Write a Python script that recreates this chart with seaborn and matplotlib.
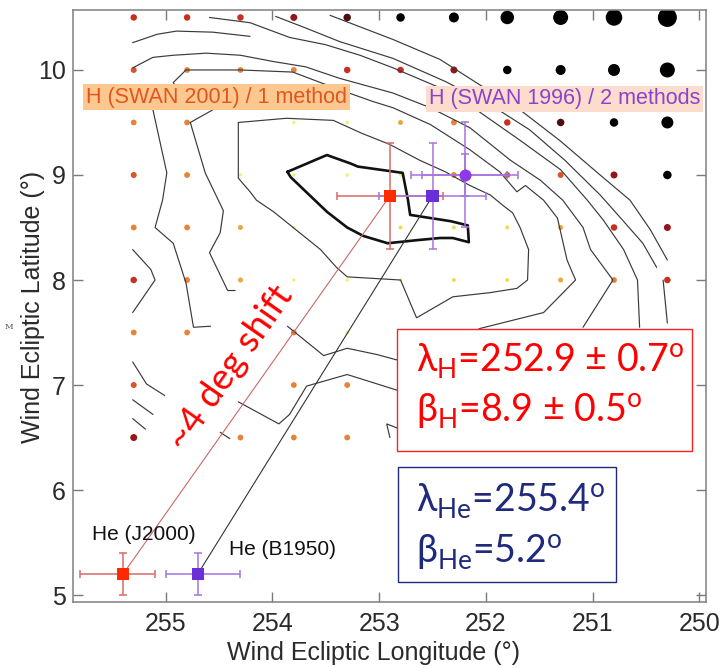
import matplotlib
matplotlib.use("Agg")
import numpy as np
import pandas as pd
import seaborn as sns
import matplotlib.pyplot as plt
from matplotlib.patches import Rectangle

# ---------------------------------------------------------------- data
grid_lon = [255.3, 254.8, 254.3, 253.8, 253.3, 252.8, 252.3, 251.8, 251.3, 250.8, 250.3]
grid_lat = [10.5, 10.0, 9.5, 9.0, 8.5, 8.0, 7.5, 7.0, 6.5]
# fit quality class per grid node (0 = no node shown)
fit_level = [
    [6, 6, 6, 7, 8, 9, 10, 12, 13, 14, 15],
    [5, 4, 4, 4, 6, 6, 7, 9, 10, 11, 13],
    [4, 4, 0, 1, 1, 3, 4, 6, 8, 9, 11],
    [5, 4, 1, 1, 1, 1, 4, 5, 5, 7, 9],
    [4, 4, 3, 1, 1, 2, 2, 2, 3, 6, 7],
    [6, 4, 3, 1, 1, 1, 2, 2, 3, 4, 6],
    [4, 4, 0, 4, 1, 0, 0, 0, 0, 0, 0],
    [5, 0, 0, 4, 4, 0, 0, 0, 0, 0, 0],
    [7, 0, 4, 4, 4, 0, 0, 0, 0, 0, 0],
]

# iso-contours of the fit (lon, lat)
contour_min_lon = [253.86, 253.49, 253.27, 253.20, 252.78, 252.73, 252.71, 252.52, 252.33, 252.17,
                   252.16, 252.31, 252.43, 252.64, 252.92, 253.15, 253.30, 253.49, 253.83, 253.86]
contour_min_lat = [9.03, 9.19, 9.11, 9.08, 9.02, 8.76, 8.62, 8.59, 8.56, 8.52,
                   8.36, 8.40, 8.40, 8.38, 8.35, 8.42, 8.50, 8.65, 8.98, 9.03]

contour_lines = [
    # level 2 (closed)
    ([254.32, 253.87, 253.43, 253.17, 252.90, 252.62, 252.38, 252.15, 251.96, 251.84, 251.75, 251.68,
      251.60, 251.61, 251.71, 251.96, 252.31, 252.65, 252.80, 253.30, 253.40, 253.55, 253.99, 254.15,
      254.21, 254.32, 254.32],
     [9.50, 9.54, 9.52, 9.40, 9.29, 9.14, 9.03, 8.90, 8.81, 8.71, 8.64, 8.50,
      8.29, 8.00, 7.92, 7.88, 7.84, 7.64, 8.00, 8.03, 8.12, 8.29, 8.65, 8.76,
      8.84, 8.97, 9.50]),
    # level 3
    ([254.35, 254.42, 254.59, 254.49, 254.46, 254.63, 254.77, 254.56, 254.87, 254.93, 254.81, 254.30,
      253.81, 253.55, 253.31, 253.06, 252.87, 252.52, 252.15, 251.87, 251.71, 251.63, 251.46, 251.33,
      251.24, 251.16, 251.46, 252.05, 252.43, 252.84, 253.02, 253.30, 253.52, 253.86],
     [7.90, 7.90, 8.26, 8.45, 8.66, 9.02, 9.50, 9.62, 9.79, 9.88, 10.00, 10.00,
      9.98, 9.88, 9.79, 9.70, 9.64, 9.48, 9.24, 9.03, 8.84, 8.90, 8.76, 8.59,
      8.19, 8.00, 7.69, 7.54, 7.38, 7.24, 7.29, 7.35, 7.28, 7.56]),
    # level 4 (west branch)
    ([254.58, 254.74, 254.81, 254.93, 255.10, 255.03, 254.99, 255.12, 255.17],
     [7.56, 7.55, 7.97, 8.35, 8.50, 8.76, 9.02, 9.62, 9.76]),
    # level 4 (north-east branch)
    ([255.31, 255.12, 254.93, 254.62, 254.30, 253.99, 253.69, 253.37, 252.87, 252.52, 252.15, 251.77,
      251.49, 251.28, 251.09, 251.02, 250.81, 251.09],
     [10.02, 10.12, 10.14, 10.16, 10.14, 10.08, 10.03, 9.92, 9.78, 9.64, 9.45, 9.14,
      8.95, 8.76, 8.50, 8.29, 8.00, 7.55]),
    # level 5
    ([254.59, 254.21, 253.84, 253.50, 253.18, 252.87, 252.43, 252.06, 251.68, 251.30, 251.05, 250.90,
      250.71, 250.58, 250.56],
     [10.50, 10.45, 10.31, 10.24, 10.14, 10.02, 9.83, 9.60, 9.33, 9.05, 8.76, 8.57,
      8.29, 8.00, 7.55]),
    # level 5 (western start)
    ([255.31, 255.08, 254.90, 254.56, 254.21],
     [10.26, 10.34, 10.37, 10.36, 10.32]),
    # level 6
    ([253.97, 253.69, 253.37, 252.87, 252.38, 251.96, 251.59, 251.26, 250.93, 250.72, 250.53, 250.40],
     [10.51, 10.40, 10.27, 10.11, 9.89, 9.67, 9.43, 9.14, 8.81, 8.57, 8.35, 8.12]),
    # level 7
    ([253.46, 252.87, 252.43, 252.06, 251.68, 251.31, 250.93, 250.65, 250.46, 250.30],
     [10.52, 10.29, 10.10, 9.86, 9.62, 9.33, 9.00, 8.76, 8.48, 8.19]),
    # southern branch
    ([254.32, 253.94, 253.84, 253.68, 253.30, 252.83],
     [6.84, 6.63, 6.72, 6.99, 7.10, 6.95]),
    # short fragments
    ([255.31, 255.14, 255.10, 255.31], [8.29, 8.10, 8.00, 7.69]),
    ([255.31, 255.18, 255.01], [7.22, 7.01, 6.90]),
    ([255.31, 255.12], [6.86, 6.72]),
    ([255.31, 255.19], [6.68, 6.58]),
    ([254.49, 254.40], [6.55, 6.49]),
    ([250.34, 250.30], [8.00, 7.59]),
    ([252.83, 252.93, 252.90], [6.59, 6.63, 6.50]),
]

# wind directions (lon, lat) with uncertainties
h2001_lon, h2001_lat, h2001_xerr, h2001_yerr = 252.9, 8.8, 0.5, 0.5
h1996_sq_lon, h1996_sq_lat, h1996_sq_xerr, h1996_sq_yerr = 252.5, 8.8, 0.5, 0.5
h1996_ci_lon, h1996_ci_lat = 252.2, 9.0
h1996_ci_xerr_outer, h1996_ci_yerr_outer = 0.5, 0.5
h1996_ci_xerr_inner, h1996_ci_yerr_inner = 0.4, 0.2
he_j2000_lon, he_j2000_lat = 255.4, 5.2
he_j2000_xerr = [[0.3], [0.4]]
he_j2000_yerr = 0.2
he_b1950_lon, he_b1950_lat = 254.7, 5.2
he_b1950_xerr = [[0.4], [0.3]]
he_b1950_yerr = 0.2

x_ticks = [255, 254, 253, 252, 251, 250]
y_ticks = [5, 6, 7, 8, 9, 10]

# ---------------------------------------------------------------- style
level_color = {1: '#f2ee80', 2: '#ecdc5c', 3: '#e8a840', 4: '#e6823a', 5: '#d8562a',
               6: '#c8301e', 7: '#951616', 8: '#4e0e0e', 9: '#000000', 10: '#000000',
               11: '#000000', 12: '#000000', 13: '#000000', 14: '#000000', 15: '#000000'}
level_diam_px = {1: 3.5, 2: 4, 3: 5, 4: 5.8, 5: 6, 6: 6.5, 7: 7, 8: 7.5, 9: 8.5,
                 10: 10, 11: 12, 12: 13.5, 13: 15, 14: 16.5, 15: 19}
level_size = {k: (v * 0.72) ** 2 for k, v in level_diam_px.items()}

RED = '#ff2a00'
RED_BAR = '#d86868'
PURPLE_SQ = '#6a2fd6'
PURPLE_CI = '#8d3ae6'
PURPLE_BAR = '#a474dc'

sns.set_theme(style="white")
plt.rcParams['font.family'] = ['Liberation Sans', 'DejaVu Sans']
plt.rcParams['mathtext.fontset'] = 'custom'
plt.rcParams['mathtext.rm'] = 'Lato'

fig = plt.figure(figsize=(7.22, 6.68), dpi=100)
ax = fig.add_axes([73 / 722, 66 / 668, 633 / 722, 592 / 668])

# grid nodes
rows = []
for j, lat in enumerate(grid_lat):
    for i, lon in enumerate(grid_lon):
        lv = fit_level[j][i]
        if lv > 0:
            rows.append((lon, lat, lv))
nodes = pd.DataFrame(rows, columns=['lon', 'lat', 'level'])
sns.scatterplot(data=nodes, x='lon', y='lat', hue='level', size='level',
                palette=level_color, sizes=level_size, linewidth=0,
                legend=False, ax=ax, zorder=2)

# contours
for clon, clat in contour_lines:
    ax.plot(clon, clat, color='#3a3a3a', lw=0.85, zorder=3, solid_joinstyle='miter')
ax.plot(contour_min_lon, contour_min_lat, color='#111111', lw=1.9, zorder=3)

# He -> H connectors
ax.plot([he_j2000_lon, h2001_lon], [he_j2000_lat, h2001_lat], color='#c86a6a', lw=0.8, zorder=4)
ax.plot([he_b1950_lon, h1996_sq_lon], [he_b1950_lat, h1996_sq_lat], color='#333333', lw=0.8, zorder=4)

eb = dict(fmt='none', elinewidth=1.1, capsize=3.2, capthick=1.1, zorder=5)
ax.errorbar(h2001_lon, h2001_lat, xerr=h2001_xerr, yerr=h2001_yerr, ecolor=RED_BAR, **eb)
ax.errorbar(h1996_sq_lon, h1996_sq_lat, xerr=h1996_sq_xerr, yerr=h1996_sq_yerr, ecolor=PURPLE_BAR, **eb)
ax.errorbar(h1996_ci_lon, h1996_ci_lat, xerr=h1996_ci_xerr_outer, yerr=h1996_ci_yerr_outer,
            ecolor=PURPLE_BAR, **eb)
ax.errorbar(h1996_ci_lon, h1996_ci_lat, xerr=h1996_ci_xerr_inner, yerr=h1996_ci_yerr_inner,
            ecolor=PURPLE_BAR, **eb)
ax.errorbar(he_j2000_lon, he_j2000_lat, xerr=he_j2000_xerr, yerr=he_j2000_yerr, ecolor=RED_BAR, **eb)
ax.errorbar(he_b1950_lon, he_b1950_lat, xerr=he_b1950_xerr, yerr=he_b1950_yerr, ecolor=PURPLE_BAR, **eb)

pts = pd.DataFrame({
    'lon': [h2001_lon, h1996_sq_lon, he_j2000_lon, he_b1950_lon],
    'lat': [h2001_lat, h1996_sq_lat, he_j2000_lat, he_b1950_lat],
    'src': ['h2001', 'h1996', 'hej', 'heb'],
})
sns.scatterplot(data=pts, x='lon', y='lat', hue='src', marker='s', s=80, linewidth=0,
                palette={'h2001': RED, 'h1996': PURPLE_SQ, 'hej': RED, 'heb': PURPLE_SQ},
                legend=False, ax=ax, zorder=6)
sns.scatterplot(x=[h1996_ci_lon], y=[h1996_ci_lat], marker='o', s=75, color=PURPLE_CI,
                linewidth=0, legend=False, ax=ax, zorder=6)

# ---------------------------------------------------------------- axes
ax.set_xlim(255.869, 249.938)
ax.set_ylim(4.934, 10.571)
ax.set_xticks(x_ticks)
ax.set_yticks(y_ticks)
ax.set_xticklabels([str(t) for t in x_ticks])
ax.set_yticklabels([str(t) for t in y_ticks])
ax.tick_params(direction='in', length=7, width=1.0, color='#7a7a7a', labelcolor='#2a2a2a',
               labelsize=18, top=True, right=True, bottom=True, left=True)
ax.tick_params(axis='x', pad=7)
ax.tick_params(axis='y', pad=5)
for sp in ax.spines.values():
    sp.set_color('#808080')
    sp.set_linewidth(1.1)
ax.set_xlabel('Wind Ecliptic Longitude (°)', fontsize=18, color='#2a2a2a')
ax.set_ylabel('Wind Ecliptic Latitude (°)', fontsize=18, color='#2a2a2a')
ax.xaxis.set_label_coords(0.474, -0.066)
ax.yaxis.set_label_coords(-0.044, 0.498)

# ---------------------------------------------------------------- labels
ax.text(0.0205, 0.853, 'H (SWAN 2001) / 1 method', transform=ax.transAxes, fontsize=15.5,
        color='#e0561e', ha='left', va='center', zorder=8,
        bbox=dict(boxstyle='square,pad=0.12', fc='#fcc890', ec='none'))
ax.text(0.562, 0.850, 'H (SWAN 1996) / 2 methods', transform=ax.transAxes, fontsize=15.5,
        color='#8b42cc', ha='left', va='center', zorder=8,
        bbox=dict(boxstyle='square,pad=0.12', fc='#fcdccc', ec='none'))

ax.text(255.69, 5.52, 'He (J2000)', fontsize=15, color='#111111', ha='left', va='baseline', zorder=8)
ax.text(254.41, 5.38, 'He (B1950)', fontsize=15, color='#111111', ha='left', va='baseline', zorder=8)

ax.text(0.248, 0.395, '~4 deg shift', transform=ax.transAxes, fontsize=26.5, family='Lato',
        color='#ff0000', rotation=55, rotation_mode='anchor', ha='center', va='center', zorder=8)

ax.add_patch(Rectangle((0.512, 0.255), 0.466, 0.206, transform=ax.transAxes,
                       fc='white', ec='#ff2020', lw=1.0, zorder=9))
ax.text(0.542, 0.389, 'λ$_\\mathregular{H}$=252.9 ± 0.7$^\\mathregular{o}$', transform=ax.transAxes,
        fontsize=27, family='Lato', color='#ff0000', ha='left', va='baseline', zorder=10)
ax.text(0.542, 0.304, 'β$_\\mathregular{H}$=8.9 ± 0.5$^\\mathregular{o}$', transform=ax.transAxes,
        fontsize=27, family='Lato', color='#ff0000', ha='left', va='baseline', zorder=10)

NAVY = '#1f2a7c'
ax.add_patch(Rectangle((0.513, 0.034), 0.345, 0.194, transform=ax.transAxes,
                       fc='white', ec=NAVY, lw=1.0, zorder=9))
ax.text(0.542, 0.152, 'λ$_\\mathregular{He}$=255.4$^\\mathregular{o}$', transform=ax.transAxes,
        fontsize=27, family='Lato', color=NAVY, ha='left', va='baseline', zorder=10)
ax.text(0.542, 0.066, 'β$_\\mathregular{He}$=5.2$^\\mathregular{o}$', transform=ax.transAxes,
        fontsize=27, family='Lato', color=NAVY, ha='left', va='baseline', zorder=10)

fig.text(5 / 722, 1 - 329 / 668, 'M', fontsize=6, color='#555555', family='DejaVu Serif')

fig.savefig('out.png', dpi=100)
